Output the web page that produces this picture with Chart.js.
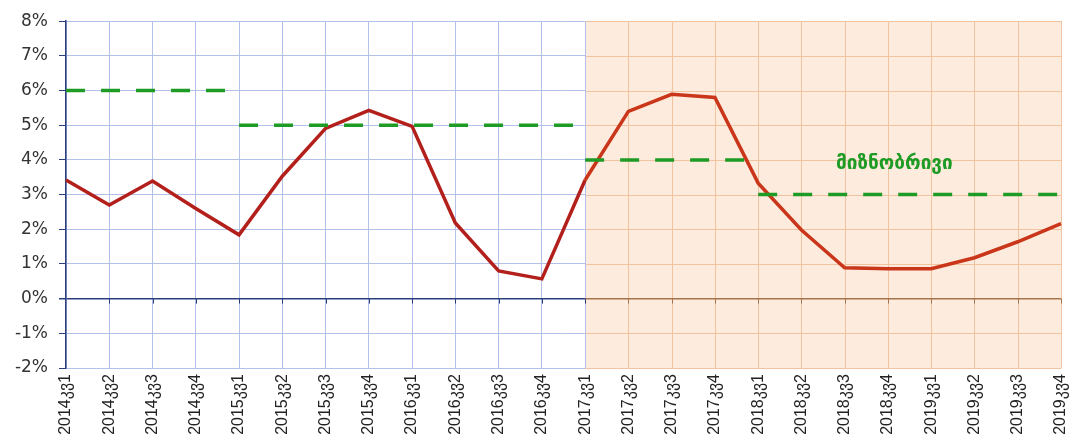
<!DOCTYPE html>
<html>
<head>
<meta charset="utf-8">
<script src="https://cdn.jsdelivr.net/npm/chart.js@4/dist/chart.umd.min.js"></script>
<style>
  body { margin: 0; background: #fff; }
  #wrap { width: 1073px; height: 447px; }
</style>
</head>
<body>
<div id="wrap"><canvas id="inflationChart"></canvas></div>
<script>
// Quarter labels (Georgian "კვ" = quarter)
const categories = [
    "2014კვ1", "2014კვ2", "2014კვ3", "2014კვ4",
    "2015კვ1", "2015კვ2", "2015კვ3", "2015კვ4",
    "2016კვ1", "2016კვ2", "2016კვ3", "2016კვ4",
    "2017კვ1", "2017კვ2", "2017კვ3", "2017კვ4",
    "2018კვ1", "2018კვ2", "2018კვ3", "2018კვ4",
    "2019კვ1", "2019კვ2", "2019კვ3", "2019კვ4"
];

// Annual inflation, %
const inflation = [
    3.42, 2.70, 3.39, 2.60,
    1.84, 3.53, 4.91, 5.43,
    4.97, 2.18, 0.80, 0.57,
    3.42, 5.40, 5.89, 5.80,
    3.33, 1.98, 0.89, 0.86,
    0.86, 1.18, 1.64, 2.16
];

// Target levels and the quarter range each one covers
const targetLevels = [6, 5, 4, 3];
const targetFrom = [0, 4, 12, 16];
const targetTo = [4, 12, 16, 23];

// Forecast period starts here (shaded area)
const forecastStart = 12;
const targetLabel = "მიზნობრივი";

const yTicks = [-2, -1, 0, 1, 2, 3, 4, 5, 6, 7, 8];

// Colours
const blueGrid = "#b3c0ea";
const peachFill = "#fdebdd";
const peachGrid = "#f1c3a1";
const axisBlue = "#2c3e7e";
const zeroBrown = "#a8744c";
const green = "#1e9b24";

// Build one null-padded series per target level
const targetSets = targetLevels.map((level, k) => ({
    data: categories.map((c, i) => (i >= targetFrom[k] && i <= targetTo[k]) ? level : null),
    borderColor: green,
    borderWidth: 3.5,
    borderDash: [19, 16],
    pointRadius: 0,
    spanGaps: false,
    fill: false
}));

// Draws the shaded forecast area with its own grid, and the target label
const forecastShade = {
    id: "forecastShade",
    beforeDatasetsDraw(chart) {
        const { ctx, chartArea: a, scales: { x, y } } = chart;
        const x0 = x.getPixelForValue(forecastStart);
        const y0 = y.getPixelForValue(0);
        ctx.save();
        ctx.fillStyle = peachFill;
        ctx.fillRect(x0, a.top, a.right - x0 + 1, a.bottom - a.top + 1);

        ctx.lineWidth = 1;
        ctx.strokeStyle = peachGrid;
        yTicks.forEach(v => {
            if (v === 0) return;
            const py = Math.round(y.getPixelForValue(v)) + 0.5;
            ctx.beginPath(); ctx.moveTo(x0, py); ctx.lineTo(a.right, py); ctx.stroke();
        });
        for (let i = forecastStart + 1; i < categories.length; i++) {
            const px = Math.round(x.getPixelForValue(i)) + 0.5;
            ctx.beginPath(); ctx.moveTo(px, a.top); ctx.lineTo(px, a.bottom); ctx.stroke();
        }
        // boundary line stays blue
        ctx.strokeStyle = blueGrid;
        const bx = Math.round(x0) + 0.5;
        ctx.beginPath(); ctx.moveTo(bx, a.top); ctx.lineTo(bx, a.bottom); ctx.stroke();

        // zero line in forecast area, plus small ticks along the zero line
        ctx.lineWidth = 1.5;
        ctx.strokeStyle = zeroBrown;
        ctx.beginPath(); ctx.moveTo(x0, y0); ctx.lineTo(a.right, y0); ctx.stroke();
        ctx.lineWidth = 1;
        for (let i = 1; i < categories.length; i++) {
            const px = Math.round(x.getPixelForValue(i)) + 0.5;
            ctx.strokeStyle = i > forecastStart ? zeroBrown : axisBlue;
            ctx.beginPath(); ctx.moveTo(px, y0); ctx.lineTo(px, y0 + 5); ctx.stroke();
        }
        ctx.restore();
    },
    afterDatasetsDraw(chart) {
        const { ctx, scales: { x, y } } = chart;
        ctx.save();
        ctx.font = "bold 19px 'DejaVu Sans'";
        ctx.fillStyle = green;
        ctx.textAlign = "left";
        ctx.textBaseline = "middle";
        ctx.fillText(targetLabel, x.getPixelForValue(17.8), y.getPixelForValue(3.88));
        ctx.restore();
    }
};

new Chart(document.getElementById("inflationChart").getContext("2d"), {
    type: "line",
    data: {
        labels: categories,
        datasets: [
            ...targetSets,
            {
                data: inflation,
                borderColor: "#b3201c",
                borderWidth: 3.5,
                pointRadius: 0,
                tension: 0,
                fill: false,
                segment: {
                    borderColor: c => c.p0DataIndex >= forecastStart ? "#c9361a" : "#b3201c"
                }
            }
        ]
    },
    options: {
        responsive: true,
        maintainAspectRatio: false,
        animation: false,
        layout: { padding: { top: 21, right: 12, left: 0, bottom: 0 } },
        plugins: { legend: { display: false }, tooltip: { enabled: false } },
        scales: {
            x: {
                offset: false,
                grid: { color: blueGrid, drawTicks: false },
                border: { color: blueGrid },
                ticks: {
                    autoSkip: false,
                    maxRotation: 90,
                    minRotation: 90,
                    padding: 6,
                    color: "#222",
                    font: { family: "'Liberation Sans', 'DejaVu Sans'", size: 16 }
                },
                afterFit(scale) {
                    scale.height = 79;
                    scale.paddingLeft = 0;
                    scale.paddingRight = 0;
                }
            },
            y: {
                min: -2,
                max: 8,
                afterBuildTicks(scale) { scale.ticks = yTicks.map(v => ({ value: v })); },
                grid: {
                    color: c => c.tick && c.tick.value === 0 ? axisBlue : blueGrid,
                    lineWidth: c => c.tick && c.tick.value === 0 ? 1.5 : 1,
                    tickColor: axisBlue,
                    tickLength: 7
                },
                border: { color: axisBlue, width: 1.5 },
                ticks: {
                    padding: 11,
                    color: "#333",
                    font: { family: "'DejaVu Sans'", size: 17 },
                    callback: v => v + "%"
                },
                afterFit(scale) { scale.width = 66; }
            }
        }
    },
    plugins: [forecastShade]
});
</script>
</body>
</html>
